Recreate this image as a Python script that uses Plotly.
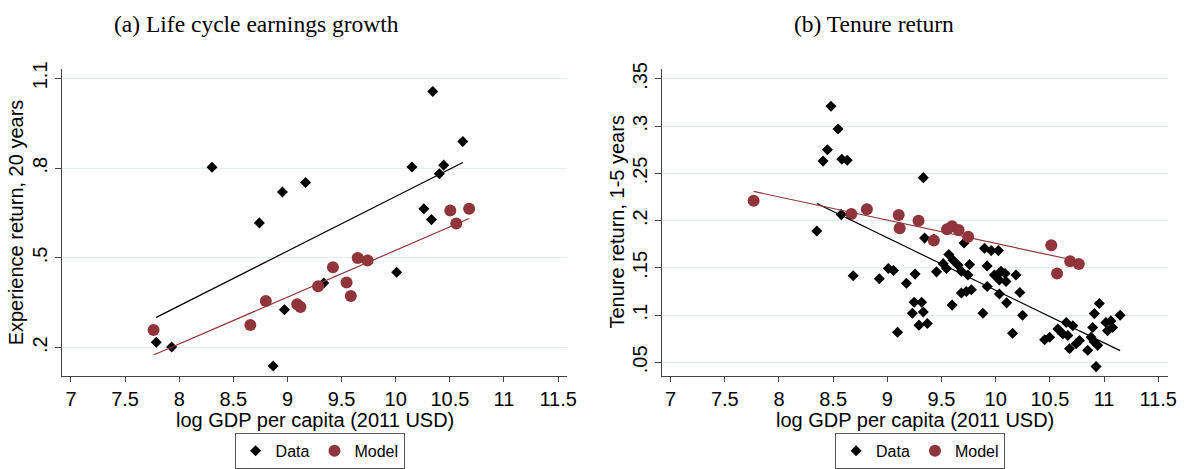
import numpy as np
import plotly.graph_objects as go

# ---------------- data: panel (a) Life cycle earnings growth ----------------
exp_data_x = [7.788, 7.93, 8.303, 8.74, 8.868, 8.953, 8.972, 9.167, 9.335,
              10.009, 10.15, 10.26, 10.33, 10.342, 10.403, 10.443, 10.62]
exp_data_y = [0.218, 0.202, 0.803, 0.617, 0.139, 0.720, 0.327, 0.752, 0.416,
              0.452, 0.804, 0.664, 0.628, 1.056, 0.781, 0.810, 0.889]
exp_model_x = [7.763, 8.657, 8.80, 9.09, 9.12, 9.283, 9.42, 9.546, 9.585,
               9.649, 9.74, 10.504, 10.559, 10.678]
exp_model_y = [0.259, 0.276, 0.356, 0.345, 0.336, 0.405, 0.469, 0.418, 0.373,
               0.500, 0.491, 0.658, 0.615, 0.664]

# ---------------- data: panel (b) Tenure return ----------------
ten_data_x = [8.48, 8.545, 8.447, 8.407, 8.581, 8.63, 9.332, 8.349, 8.575, 8.685,
              8.926, 9.009, 9.057, 9.256, 9.176, 9.094, 9.247, 9.317, 9.231, 9.332,
              9.292, 9.369, 9.344, 9.43,
              9.708, 9.897, 9.958, 10.025, 9.567, 9.607, 9.515, 9.454, 9.546, 9.653,
              9.683, 9.759, 9.744, 9.921, 9.988, 10.049, 10.086, 10.034, 10.095, 10.187,
              9.683, 9.729, 9.775, 9.921, 10.034, 10.223, 10.101, 9.598, 9.882, 10.248,
              10.156,
              10.956, 10.91, 11.148, 10.452, 10.498, 10.574, 10.651, 10.62, 10.712, 10.666,
              10.681, 10.742, 10.773, 10.849, 10.895, 10.88, 10.91, 10.941, 11.017, 11.063,
              11.032, 11.078, 10.926]
ten_data_y = [0.321, 0.297, 0.275, 0.263, 0.265, 0.264, 0.2455, 0.189, 0.2064, 0.1417,
              0.1386, 0.1493, 0.1472, 0.1434, 0.1337, 0.0818, 0.1137, 0.1137, 0.1019, 0.1033,
              0.0894, 0.0912, 0.1815, 0.1805,
              0.1763, 0.1708, 0.1683, 0.1683, 0.1642, 0.158, 0.1545, 0.1458, 0.1493, 0.1528,
              0.1465, 0.1535, 0.1424, 0.1521, 0.1424, 0.1465, 0.1441, 0.1372, 0.1355, 0.1424,
              0.1234, 0.1251, 0.1268, 0.1303, 0.1223, 0.124, 0.113, 0.1106, 0.1019, 0.0998,
              0.0808,
              0.1123, 0.1016, 0.0998, 0.0739, 0.0766, 0.0853, 0.0922, 0.0801, 0.0888, 0.0784,
              0.0645, 0.0697, 0.0732, 0.0628, 0.087, 0.0766, 0.0715, 0.068, 0.0922, 0.0939,
              0.0836, 0.087, 0.0455]
ten_model_x = [7.766, 8.668, 8.811, 9.105, 9.114, 9.288, 9.429, 9.551, 9.597, 9.658,
               9.746, 10.513, 10.566, 10.687, 10.767]
ten_model_y = [0.221, 0.207, 0.212, 0.206, 0.192, 0.200, 0.179, 0.191, 0.194, 0.190,
               0.183, 0.174, 0.144, 0.157, 0.154]

# ---------------- tick labels ----------------
x_ticks = [7, 7.5, 8, 8.5, 9, 9.5, 10, 10.5, 11, 11.5]
x_ticktext = ["7", "7.5", "8", "8.5", "9", "9.5", "10", "10.5", "11", "11.5"]
ya_ticks = [0.2, 0.5, 0.8, 1.1]
ya_ticktext = [".2", ".5", ".8", "1.1"]
yb_ticks = [0.05, 0.10, 0.15, 0.20, 0.25, 0.30, 0.35]
yb_ticktext = [".05", ".1", ".15", ".2", ".25", ".3", ".35"]

titles = ["(a) Life cycle earnings growth", "(b) Tenure return"]
ytitles = ["Experience return, 20 years", "Tenure return, 1-5 years"]
xtitle = "log GDP per capita (2011 USD)"

MAROON = "#90353b"
W, H = 1203, 469


def lfit(x, y):
    x = np.asarray(x, float)
    y = np.asarray(y, float)
    b, a = np.polyfit(x, y, 1)
    xs = np.array([x.min(), x.max()])
    return xs, a + b * xs


fig = go.Figure()

panels = [
    (exp_data_x, exp_data_y, exp_model_x, exp_model_y, "x", "y", "legend"),
    (ten_data_x, ten_data_y, ten_model_x, ten_model_y, "x2", "y2", "legend2"),
]
for dx, dy, mx, my, xa, ya, lg in panels:
    fig.add_trace(go.Scatter(x=dx, y=dy, mode="markers", name="Data",
                             marker=dict(symbol="diamond", size=8.5, color="black"),
                             xaxis=xa, yaxis=ya, legend=lg))
    fig.add_trace(go.Scatter(x=mx, y=my, mode="markers", name="Model",
                             marker=dict(symbol="circle", size=12, color=MAROON),
                             xaxis=xa, yaxis=ya, legend=lg))
    lx, ly = lfit(dx, dy)
    fig.add_trace(go.Scatter(x=lx, y=ly, mode="lines", showlegend=False,
                             line=dict(color="black", width=1.2),
                             xaxis=xa, yaxis=ya, hoverinfo="skip"))
    lx, ly = lfit(mx, my)
    fig.add_trace(go.Scatter(x=lx, y=ly, mode="lines", showlegend=False,
                             line=dict(color=MAROON, width=1.2),
                             xaxis=xa, yaxis=ya, hoverinfo="skip"))

SANS = "Liberation Sans, Arial, sans-serif"
SERIF = "Liberation Serif, Times New Roman, serif"
AX = "#444444"
GRID = "#e3ecef"

xcommon = dict(tickvals=x_ticks, ticktext=x_ticktext, ticks="outside", ticklen=5,
               tickcolor=AX, tickwidth=1, showline=True, linecolor=AX, linewidth=1,
               showgrid=False, zeroline=False, tickfont=dict(family=SANS, size=20, color="black"))
ycommon = dict(ticks="outside", ticklen=6, tickcolor=AX, tickwidth=1, showline=True,
               linecolor=AX, linewidth=1, showgrid=True, gridcolor=GRID, gridwidth=1,
               zeroline=False, tickangle=-90,
               tickfont=dict(family=SANS, size=20, color="black"))

ybot = (H - 376) / H
ytop = (H - 63.3) / H

leg_common = dict(orientation="h", y=(H - 452.5) / H, xanchor="center", yanchor="middle",
                  bordercolor="#555555", borderwidth=1, itemwidth=30, bgcolor="white",
                  font=dict(family=SANS, size=16, color="black"))

fig.update_layout(
    width=W, height=H,
    autosize=False,
    margin=dict(l=0, r=0, t=0, b=0),
    paper_bgcolor="white", plot_bgcolor="white",
    xaxis=dict(domain=[62 / W, 571.7 / W], range=[6.913, 11.586], anchor="y", **xcommon),
    yaxis=dict(domain=[ybot, ytop], range=[0.106, 1.131], anchor="x",
               tickvals=ya_ticks, ticktext=ya_ticktext, **ycommon),
    xaxis2=dict(domain=[666.7 / W, 1176.7 / W], range=[6.918, 11.589], anchor="y2", **xcommon),
    yaxis2=dict(domain=[ybot, ytop], range=[0.0358, 0.3604], anchor="x2",
                tickvals=yb_ticks, ticktext=yb_ticktext, **ycommon),
    legend=dict(x=322 / W, **leg_common),
    legend2=dict(x=927 / W, **leg_common),
    showlegend=True,
)

annotations = [
    dict(text=titles[0], x=258.5 / W, y=(H - 17) / H, xanchor="center", yanchor="middle",
         font=dict(family=SERIF, size=23.5, color="black")),
    dict(text=titles[1], x=881 / W, y=(H - 17) / H, xanchor="center", yanchor="middle",
         font=dict(family=SERIF, size=23.5, color="black")),
    dict(text=ytitles[0], x=17 / W, y=(H - 219.7) / H, textangle=-90, xanchor="center",
         yanchor="middle", font=dict(family=SANS, size=20, color="black")),
    dict(text=ytitles[1], x=621.7 / W, y=(H - 219.7) / H, textangle=-90, xanchor="center",
         yanchor="middle", font=dict(family=SANS, size=20, color="black")),
    dict(text=xtitle, x=317 / W, y=(H - 421) / H, xanchor="center", yanchor="middle",
         font=dict(family=SANS, size=20, color="black")),
    dict(text=xtitle, x=921.7 / W, y=(H - 421) / H, xanchor="center", yanchor="middle",
         font=dict(family=SANS, size=20, color="black")),
]
for a in annotations:
    a.update(xref="paper", yref="paper", showarrow=False)
fig.update_layout(annotations=annotations)

fig.write_html("out.html",
               config={"responsive": False, "displayModeBar": False},
               post_script="document.body.style.margin='0';document.body.style.padding='0';"
                           "document.body.style.overflow='hidden';")
